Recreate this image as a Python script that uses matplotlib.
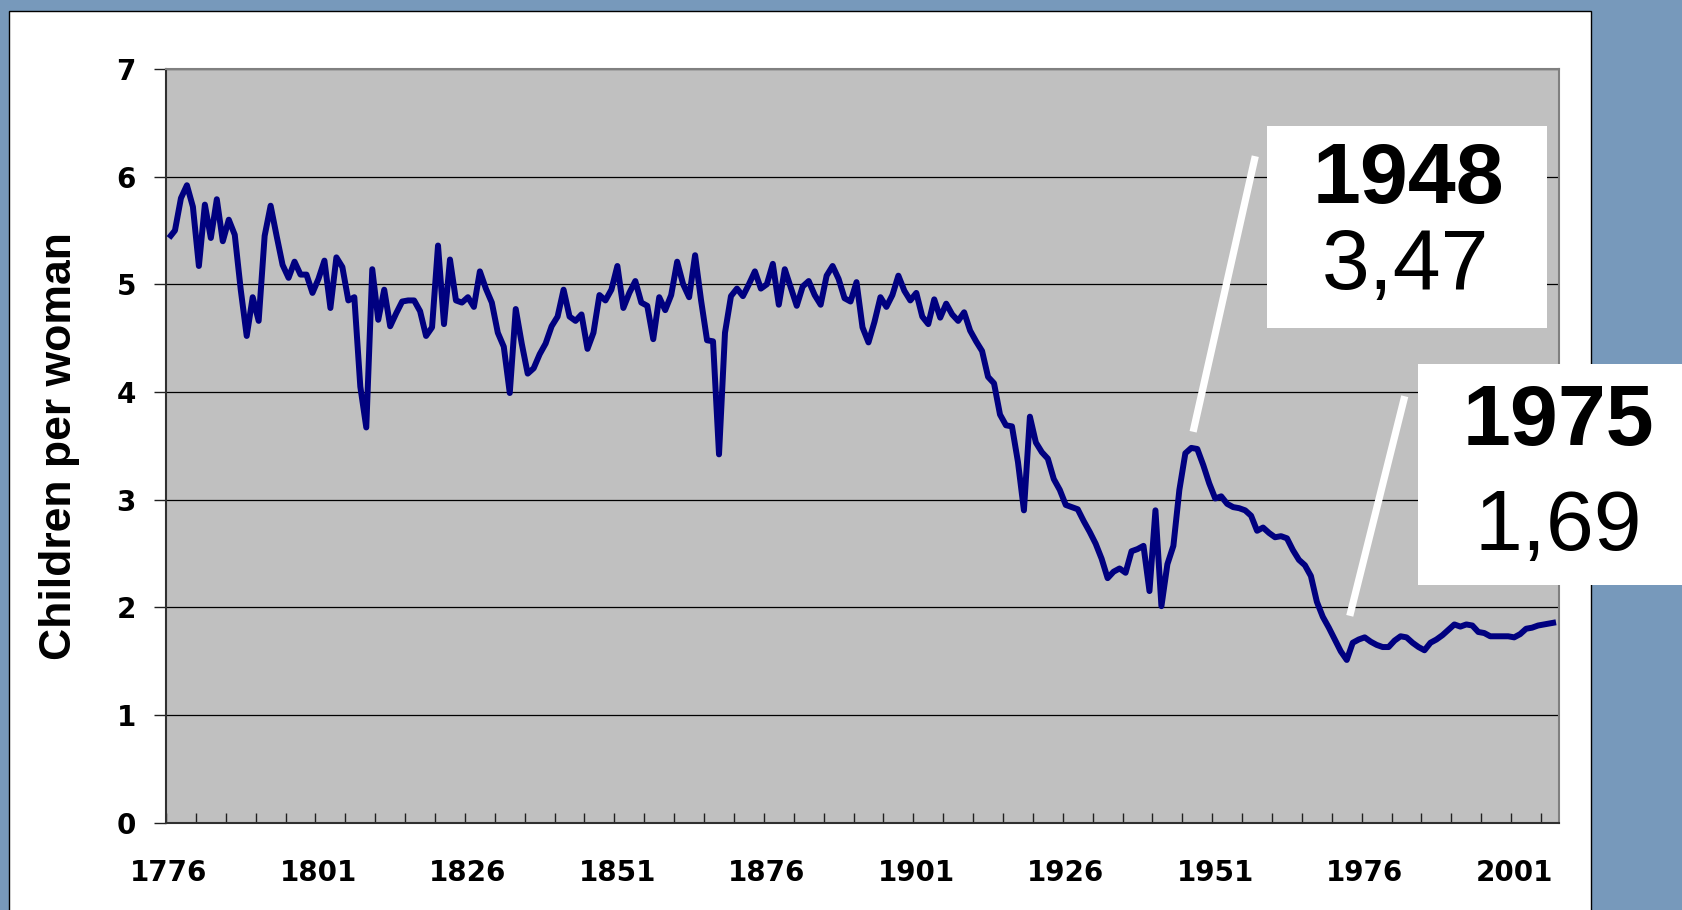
import matplotlib
matplotlib.use("Agg")
import matplotlib.pyplot as plt
from matplotlib.patches import Rectangle
from matplotlib.ticker import FixedLocator

# ---------------- data ----------------
years = list(range(1776, 2009))
tfr = [
    5.43, 5.50, 5.80, 5.92, 5.72, 5.17, 5.74, 5.43, 5.79, 5.40,   # 1776-1785
    5.60, 5.46, 4.95, 4.52, 4.88, 4.66, 5.45, 5.73, 5.45, 5.18,   # 1786-1795
    5.06, 5.21, 5.09, 5.09, 4.92, 5.05, 5.22, 4.78, 5.25, 5.16,   # 1796-1805
    4.85, 4.88, 4.05, 3.67, 5.14, 4.67, 4.95, 4.61, 4.73, 4.84,   # 1806-1815
    4.85, 4.85, 4.75, 4.52, 4.60, 5.36, 4.63, 5.23, 4.85, 4.83,   # 1816-1825
    4.88, 4.79, 5.12, 4.96, 4.83, 4.55, 4.42, 3.99, 4.77, 4.45,   # 1826-1835
    4.17, 4.22, 4.35, 4.45, 4.61, 4.70, 4.95, 4.70, 4.66, 4.72,   # 1836-1845
    4.40, 4.55, 4.90, 4.85, 4.95, 5.17, 4.78, 4.92, 5.03, 4.83,   # 1846-1855
    4.80, 4.49, 4.88, 4.76, 4.90, 5.21, 5.00, 4.88, 5.27, 4.85,   # 1856-1865
    4.48, 4.47, 3.42, 4.55, 4.89, 4.96, 4.89, 5.00, 5.12, 4.96,   # 1866-1875
    5.00, 5.19, 4.81, 5.14, 4.97, 4.80, 4.98, 5.03, 4.90, 4.81,   # 1876-1885
    5.08, 5.17, 5.05, 4.87, 4.84, 5.02, 4.60, 4.46, 4.65, 4.88,   # 1886-1895
    4.79, 4.90, 5.08, 4.94, 4.85, 4.92, 4.70, 4.63, 4.86, 4.69,   # 1896-1905
    4.82, 4.72, 4.66, 4.74, 4.57, 4.47, 4.38, 4.14, 4.08, 3.79,   # 1906-1915
    3.69, 3.68, 3.35, 2.90, 3.77, 3.53, 3.44, 3.38, 3.19, 3.09,   # 1916-1925
    2.95, 2.93, 2.91, 2.80, 2.70, 2.59, 2.45, 2.27, 2.33, 2.36,   # 1926-1935
    2.32, 2.52, 2.54, 2.57, 2.15, 2.90, 2.01, 2.40, 2.57, 3.09,   # 1936-1945
    3.43, 3.48, 3.47, 3.32, 3.15, 3.01, 3.03, 2.96, 2.93, 2.92,   # 1946-1955
    2.90, 2.85, 2.71, 2.74, 2.69, 2.65, 2.66, 2.64, 2.53, 2.44,   # 1956-1965
    2.39, 2.29, 2.05, 1.91, 1.81, 1.70, 1.59, 1.51, 1.67, 1.70,   # 1966-1975
    1.72, 1.68, 1.65, 1.63, 1.63, 1.69, 1.73, 1.72, 1.67, 1.63,   # 1976-1985
    1.60, 1.67, 1.70, 1.74, 1.79, 1.84, 1.82, 1.84, 1.83, 1.77,   # 1986-1995
    1.76, 1.73, 1.73, 1.73, 1.73, 1.72, 1.75, 1.80, 1.81, 1.83,   # 1996-2005
    1.84, 1.85, 1.86,                                             # 2006-2008
]
x_label_years = [1776, 1801, 1826, 1851, 1876, 1901, 1926, 1951, 1976, 2001]
x_tick_labels = [str(y) for y in x_label_years]
y_ticks = [0, 1, 2, 3, 4, 5, 6, 7]
y_label = "Children per woman"
callout_years = ["1948", "1975"]
callout_values = ["3,47", "1,69"]

# ---------------- layout ----------------
W, H = 1682, 910
FONT = "Liberation Sans"
plt.rcParams["font.family"] = [FONT, "DejaVu Sans"]

def fx(px):
    return px / W

def fy(py):
    return 1 - py / H

fig = plt.figure(figsize=(W / 100, H / 100), dpi=100)
fig.patch.set_facecolor("#7799bb")

# white slide panel
fig.add_artist(Rectangle((fx(9), fy(915)), fx(1591) - fx(9), fy(11) - fy(915),
                         transform=fig.transFigure, facecolor="white",
                         edgecolor="black", lw=1.0, zorder=-5))

ax = fig.add_axes([fx(166), fy(822.5), fx(1559) - fx(166), fy(69) - fy(822.5)])
ax.set_facecolor("#c0c0c0")
ax.plot(years, tfr, color="#000080", lw=4.3, solid_joinstyle="round",
        solid_capstyle="butt", zorder=3)

ax.set_xlim(1775.5, 2008.5)
ax.set_ylim(0, 7)

# y axis
ax.set_yticks(y_ticks)
ax.set_yticklabels([str(v) for v in y_ticks])
ax.tick_params(axis="y", direction="out", length=8.6, width=1.0, color="#202020",
               pad=13.0, labelsize=20)
ax.yaxis.grid(True, color="black", lw=0.9)
ax.set_axisbelow(True)

# x axis: labels at every 25 years, tick marks every 5 years
ax.xaxis.set_major_locator(FixedLocator(x_label_years))
ax.set_xticklabels(x_tick_labels)
ax.xaxis.set_minor_locator(FixedLocator([1775.5 + 5 * k for k in range(47)]))
ax.tick_params(axis="x", which="major", direction="in", length=0, pad=26,
               labelsize=20)
ax.tick_params(axis="x", which="minor", direction="in", length=7.5, width=1.0,
               color="#202020")
for lbl in ax.get_xticklabels() + ax.get_yticklabels():
    lbl.set_fontweight("bold")
    lbl.set_family(["DejaVu Sans"])

for side in ("left", "bottom"):
    ax.spines[side].set_color("#303030")
    ax.spines[side].set_linewidth(1.5)
for side in ("top", "right"):
    ax.spines[side].set_color("#808080")
    ax.spines[side].set_linewidth(1.5)

ax.set_ylabel(y_label, fontsize=32, fontweight="bold", va="center")
ax.yaxis.set_label_coords((59 - 166) / (1559 - 166), 0.5)

# callout leader lines (white), in data coordinates
ax.plot([1957.7, 1947.3], [6.19, 3.63], color="white", lw=5.2,
        solid_capstyle="butt", zorder=4)
ax.plot([1982.7, 1973.5], [3.96, 1.92], color="white", lw=5.2,
        solid_capstyle="butt", zorder=4)

# callout boxes
fig.add_artist(Rectangle((fx(1267), fy(328)), fx(1547) - fx(1267), fy(126) - fy(328),
                         transform=fig.transFigure, facecolor="white",
                         edgecolor="none", zorder=5))
fig.add_artist(Rectangle((fx(1418), fy(585)), fx(1690) - fx(1418), fy(364) - fy(585),
                         transform=fig.transFigure, facecolor="white",
                         edgecolor="none", zorder=5))

fig.text(fx(1408), fy(203.5), callout_years[0], fontsize=62, fontweight="bold",
         ha="center", va="baseline", zorder=6)
fig.text(fx(1406), fy(288.5), callout_values[0], fontsize=62,
         ha="center", va="baseline", zorder=6)
fig.text(fx(1558), fy(444.5), callout_years[1], fontsize=62, fontweight="bold",
         ha="center", va="baseline", zorder=6)
fig.text(fx(1558), fy(550), callout_values[1], fontsize=62,
         ha="center", va="baseline", zorder=6)

fig.savefig("out.png", dpi=100, facecolor=fig.get_facecolor())
